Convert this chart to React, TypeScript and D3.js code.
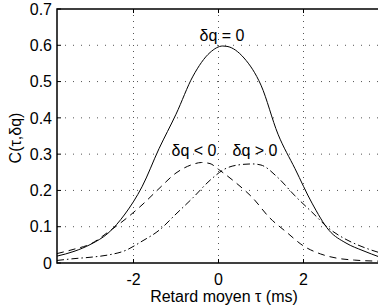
import React from "react";
import * as d3 from "d3";

const W = 378;
const H = 308;
const M = { left: 57, top: 9, right: 380, bottom: 263 };

// retard moyen tau (ms)
const tau = [-3.8, -3.4, -3.0, -2.6, -2.2, -1.8, -1.4, -1.0, -0.6, -0.2, 0.1, 0.2, 0.6, 1.0, 1.4, 1.8, 2.2, 2.6, 3.0, 3.4, 3.8];
// dq = 0
const cZero = [0.019, 0.032, 0.052, 0.082, 0.135, 0.21, 0.315, 0.41, 0.515, 0.58, 0.598, 0.597, 0.565, 0.49, 0.355, 0.26, 0.165, 0.09, 0.055, 0.034, 0.016];
// dq < 0
const tauNeg = [-3.8, -3.4, -3.0, -2.6, -2.2, -1.8, -1.4, -1.0, -0.6, -0.4, -0.2, 0.0, 0.4, 0.8, 1.2, 1.6, 2.0, 2.4, 2.8, 3.2, 3.8];
const cNeg = [0.026, 0.038, 0.053, 0.085, 0.12, 0.16, 0.205, 0.248, 0.272, 0.277, 0.274, 0.258, 0.222, 0.18, 0.125, 0.085, 0.047, 0.025, 0.013, 0.008, 0.005];
// dq > 0
const tauPos = [-3.8, -3.4, -3.0, -2.6, -2.2, -1.8, -1.4, -1.0, -0.6, -0.2, 0.2, 0.6, 0.8, 1.0, 1.4, 1.8, 2.2, 2.6, 3.0, 3.4, 3.8];
const cPos = [0.007, 0.012, 0.016, 0.022, 0.034, 0.06, 0.09, 0.135, 0.18, 0.228, 0.262, 0.272, 0.273, 0.27, 0.235, 0.185, 0.14, 0.095, 0.065, 0.044, 0.028];

const xTicks = [-2, 0, 2];
const yTicks = [0, 0.1, 0.2, 0.3, 0.4, 0.5, 0.6, 0.7];

const FONT = "'Liberation Sans', Arial, Helvetica, sans-serif";
const FS = 16;

export default function App() {
  const x = d3.scaleLinear().domain([-3.8, 3.8]).range([M.left, M.right]);
  const y = d3.scaleLinear().domain([0, 0.7]).range([M.bottom, M.top]);

  const line = d3
    .line<[number, number]>()
    .x((d) => x(d[0]))
    .y((d) => y(d[1]))
    .curve(d3.curveMonotoneX);

  const series = [
    { xs: tau, ys: cZero, dash: undefined },
    { xs: tauNeg, ys: cNeg, dash: "7,5" },
    { xs: tauPos, ys: cPos, dash: "7,3,1.5,3" },
  ];

  return (
    <svg width={W} height={H} style={{ position: "absolute", left: 0, top: 0, background: "#fff" }} fontFamily={FONT}>
      <rect x={0} y={0} width={W} height={H} fill="#fff" />
      {/* grid */}
      {xTicks.map((t) => (
        <line key={"gx" + t} x1={x(t)} x2={x(t)} y1={M.top} y2={M.bottom} stroke="#555" strokeWidth={1} strokeDasharray="1,5" />
      ))}
      {yTicks.slice(1, -1).map((t) => (
        <line key={"gy" + t} x1={M.left} x2={M.right} y1={y(t)} y2={y(t)} stroke="#555" strokeWidth={1} strokeDasharray="1,7" />
      ))}

      {/* curves */}
      {series.map((s, i) => (
        <path
          key={i}
          d={line(s.xs.map((v, j) => [v, s.ys[j]] as [number, number])) || ""}
          fill="none"
          stroke="#000"
          strokeWidth={1}
          strokeDasharray={s.dash}
        />
      ))}

      {/* box */}
      <rect x={M.left} y={M.top} width={M.right - M.left} height={M.bottom - M.top} fill="none" stroke="#000" strokeWidth={1.5} />

      {/* ticks */}
      {yTicks.map((t) => (
        <g key={"ty" + t}>
          <line x1={M.left} x2={M.left + 4} y1={y(t)} y2={y(t)} stroke="#000" />
          <text x={52} y={y(t)} dy="0.36em" textAnchor="end" fontSize={FS}>
            {t === 0 ? "0" : t.toFixed(1)}
          </text>
        </g>
      ))}
      {xTicks.map((t) => (
        <g key={"tx" + t}>
          <line x1={x(t)} x2={x(t)} y1={M.bottom} y2={M.bottom - 4} stroke="#000" />
          <line x1={x(t)} x2={x(t)} y1={M.top} y2={M.top + 4} stroke="#000" />
          <text x={x(t)} y={285} textAnchor="middle" fontSize={FS}>
            {t}
          </text>
        </g>
      ))}

      {/* labels */}
      <text x={224} y={302} textAnchor="middle" fontSize={FS}>
        Retard moyen τ (ms)
      </text>
      <text transform={`translate(21, 138) rotate(-90)`} textAnchor="middle" fontSize={FS}>
        C(τ,δq)
      </text>

      <text x={222} y={41} textAnchor="middle" fontSize={FS}>δq = 0</text>
      <text x={194} y={156} textAnchor="middle" fontSize={FS}>δq &lt; 0</text>
      <text x={255} y={156} textAnchor="middle" fontSize={FS}>δq &gt; 0</text>
    </svg>
  );
}
